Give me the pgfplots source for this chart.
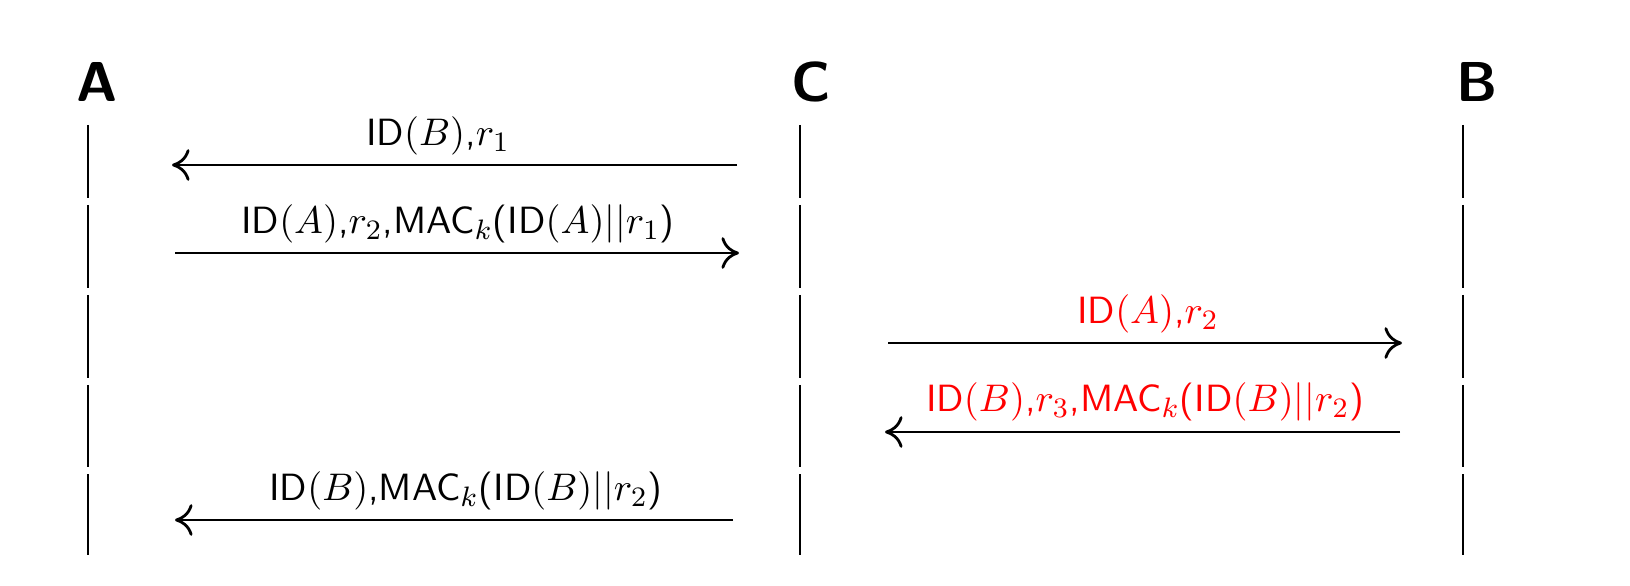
\documentclass[border=0pt]{standalone}
\usepackage{pgfplots}
\pgfplotsset{compat=1.18}
\usetikzlibrary{arrows.meta}
\begin{document}
\begin{tikzpicture}
\begin{axis}[width=16.3cm,height=5.86cm,scale only axis,xmin=0,xmax=1630,ymin=0,ymax=586,
 y dir=reverse,axis lines=none,clip=false,font=\sffamily\fontsize{10.8}{12}\selectfont]
\addplot[draw=none] coordinates {(0,0) (1630,586)};
% lifelines
\foreach \x in {88,800,1463}{
 \foreach \a/\b in {125/198,205/288,295/378,385/467,474/555}{
  \edef\tmp{\noexpand\addplot[black,line width=0.8pt] coordinates {(\x,\a) (\x,\b)};}\tmp
 }}
\node[font=\sffamily\bfseries\fontsize{16}{18}\selectfont] at (axis cs:97,82) {A};
\node[font=\sffamily\bfseries\fontsize{16}{18}\selectfont] at (axis cs:811,82) {C};
\node[font=\sffamily\bfseries\fontsize{16}{18}\selectfont] at (axis cs:1477,82) {B};
% messages
\addplot[black,line width=0.8pt,-{To[length=5pt,width=9pt]}] coordinates {(737,165) (172,165)};
\node at (axis cs:438,136) {ID$(B)$,$r_1$};
\addplot[black,line width=0.8pt,-{To[length=5pt,width=9pt]}] coordinates {(175,253) (739,253)};
\node at (axis cs:458,224) {ID$(A)$,$r_2$,MAC$_k$(ID$(A)||r_1$)};
\addplot[black,line width=0.8pt,-{To[length=5pt,width=9pt]}] coordinates {(888,343) (1402,343)};
\node[red] at (axis cs:1148,314) {ID$(A)$,$r_2$};
\addplot[black,line width=0.8pt,-{To[length=5pt,width=9pt]}] coordinates {(1400,432) (885,432)};
\node[red] at (axis cs:1145,402) {ID$(B)$,$r_3$,MAC$_k$(ID$(B)||r_2$)};
\addplot[black,line width=0.8pt,-{To[length=5pt,width=9pt]}] coordinates {(733,520) (175,520)};
\node at (axis cs:466,491) {ID$(B)$,MAC$_k$(ID$(B)||r_2$)};
\end{axis}
\pgfresetboundingbox
\path (0,0) rectangle (16.3cm,5.86cm);
\end{tikzpicture}
\end{document}
